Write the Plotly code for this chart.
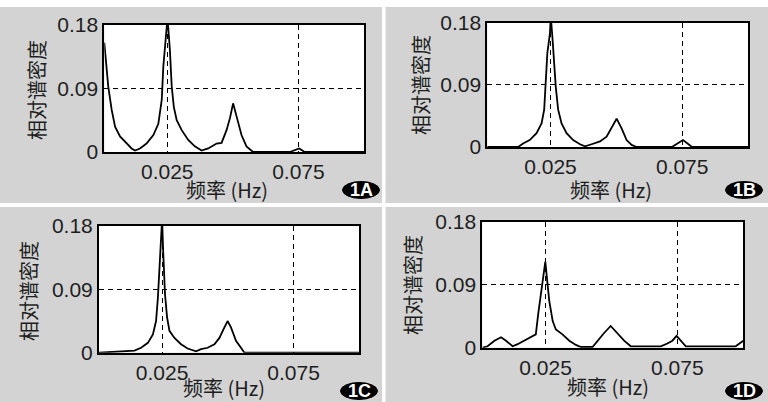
import plotly.graph_objects as go

# ---------------- data ----------------
freq_A = [0.0010, 0.0015, 0.0025, 0.0038, 0.0051, 0.0070, 0.0095, 0.0114, 0.0127, 0.0146,
          0.0171, 0.0197, 0.0216, 0.0229, 0.0235, 0.0244, 0.0251, 0.0260, 0.0267, 0.0275,
          0.0286, 0.0305, 0.0330, 0.0355, 0.0381, 0.0406, 0.0438, 0.0457, 0.0476, 0.0489,
          0.0501, 0.0516, 0.0533, 0.0552, 0.0577, 0.0717, 0.0736, 0.0753, 0.0774, 0.1000]
psd_A = [0.155, 0.130, 0.093, 0.060, 0.036, 0.022, 0.012, 0.005, 0.002, 0.005,
         0.012, 0.024, 0.040, 0.074, 0.121, 0.154, 0.190, 0.145, 0.093, 0.064,
         0.045, 0.031, 0.017, 0.008, 0.002, 0.005, 0.012, 0.013, 0.031, 0.048,
         0.069, 0.048, 0.024, 0.008, 0.000, 0.000, 0.003, 0.005, 0.000, 0.000]

freq_B = [0.0010, 0.0127, 0.0146, 0.0171, 0.0197, 0.0216, 0.0226, 0.0232, 0.0238, 0.0248,
          0.0251, 0.0258, 0.0264, 0.0270, 0.0279, 0.0292, 0.0311, 0.0336, 0.0362, 0.0381,
          0.0406, 0.0438, 0.0463, 0.0482, 0.0501, 0.0520, 0.0539, 0.0558, 0.0577, 0.0711,
          0.0730, 0.0753, 0.0774, 0.0787, 0.1000]
psd_B = [0.000, 0.000, 0.005, 0.010, 0.020, 0.034, 0.054, 0.092, 0.136, 0.165,
         0.190, 0.155, 0.121, 0.087, 0.054, 0.034, 0.020, 0.010, 0.004, 0.001,
         0.004, 0.008, 0.015, 0.027, 0.041, 0.027, 0.010, 0.003, 0.000, 0.000,
         0.005, 0.010, 0.004, 0.000, 0.000]

freq_C = [0.0010, 0.0145, 0.0170, 0.0196, 0.0215, 0.0227, 0.0234, 0.0240, 0.0244, 0.0250,
          0.0254, 0.0256, 0.0261, 0.0269, 0.0278, 0.0297, 0.0322, 0.0347, 0.0379, 0.0398,
          0.0423, 0.0449, 0.0468, 0.0487, 0.0499, 0.0512, 0.0531, 0.0550, 0.0563, 0.1000]
psd_C = [0.000, 0.003, 0.007, 0.014, 0.026, 0.045, 0.078, 0.121, 0.150, 0.190,
         0.145, 0.121, 0.083, 0.050, 0.031, 0.021, 0.012, 0.006, 0.002, 0.005,
         0.007, 0.012, 0.021, 0.036, 0.045, 0.036, 0.017, 0.007, 0.000, 0.000]

freq_D = [0.0011, 0.0030, 0.0056, 0.0081, 0.0100, 0.0125, 0.0144, 0.0169, 0.0194, 0.0213,
          0.0222, 0.0232, 0.0242, 0.0249, 0.0255, 0.0264, 0.0277, 0.0289, 0.0314, 0.0340,
          0.0365, 0.0384, 0.0428, 0.0447, 0.0472, 0.0497, 0.0523, 0.0548, 0.0573, 0.0687,
          0.0712, 0.0731, 0.0747, 0.0763, 0.0782, 0.0971, 0.0984, 0.1000]
psd_D = [0.000, 0.002, 0.010, 0.015, 0.010, 0.002, 0.005, 0.010, 0.014, 0.019,
         0.048, 0.076, 0.105, 0.123, 0.100, 0.067, 0.038, 0.026, 0.019, 0.010,
         0.004, 0.001, 0.001, 0.010, 0.021, 0.031, 0.021, 0.010, 0.002, 0.002,
         0.006, 0.010, 0.017, 0.010, 0.002, 0.002, 0.006, 0.010]

x_tick_vals = [0.025, 0.075]
x_tick_text = ["0.025", "0.075"]
y_tick_vals = [0, 0.09, 0.18]
y_tick_text = ["0", "0.09", "0.18"]
panel_labels = ["1A", "1B", "1C", "1D"]
y_title = "相对谱密度"
x_title = "频率 (Hz)"

# ---------------- layout helpers ----------------
W, H = 768, 402
def px(x):
    return x / W
def py(y):
    return 1 - y / H

FONT = "Liberation Sans, Arial, Noto Sans CJK SC, sans-serif"
CJK = "Noto Sans CJK SC, Liberation Sans, sans-serif"
TXT = "#1e1e1e"
GRAY = "#d3d3d3"

# plot boxes in pixels: (left, right, top, bottom)
boxes = [(104.3, 364, 25, 152), (487.3, 748, 22.7, 147),
         (99, 359.3, 226, 352.7), (482.3, 743.3, 221.7, 347.7)]
ytitle_pos = [(37, 90), (421, 85), (28, 291), (412, 285)]
xtitle_pos = [(227, 190), (611, 190), (224, 387), (608, 386)]
badge_pos = [(361, 190), (744, 190), (359, 391), (744, 391)]

series = [(freq_A, psd_A), (freq_B, psd_B), (freq_C, psd_C), (freq_D, psd_D)]

fig = go.Figure()
layout = dict(
    width=W, height=H, margin=dict(l=0, r=0, t=0, b=0, pad=0, autoexpand=False),
    paper_bgcolor=GRAY, plot_bgcolor="white", showlegend=False,
    font=dict(family=FONT, color=TXT),
)
annotations = []
shapes = [
    dict(type="rect", xref="paper", yref="paper", x0=0, x1=1, y0=py(7), y1=1,
         fillcolor="white", line_width=0, layer="below"),
    dict(type="rect", xref="paper", yref="paper", x0=px(382), x1=px(385.5), y0=0, y1=1,
         fillcolor="white", line_width=0, layer="below"),
    dict(type="rect", xref="paper", yref="paper", x0=0, x1=1, y0=py(207), y1=py(203),
         fillcolor="white", line_width=0, layer="below"),
]

for i, ((fx, fy), (l, r, t, b)) in enumerate(zip(series, boxes)):
    n = "" if i == 0 else str(i + 1)
    fig.add_trace(go.Scatter(x=fx, y=fy, mode="lines", xaxis="x" + n, yaxis="y" + n,
                             line=dict(color="black", width=1.8), hoverinfo="skip"))
    layout["xaxis" + n] = dict(
        domain=[px(l), px(r)], range=[0.001, 0.1], anchor="y" + n, automargin=False,
        tickvals=x_tick_vals, ticktext=x_tick_text, ticks="",
        showgrid=True, gridcolor="black", gridwidth=1.3, griddash="5px,4px",
        showline=True, mirror=True, linecolor="black", linewidth=2,
        zeroline=False, tickfont=dict(size=21, family=FONT, color=TXT), fixedrange=True,
    )
    layout["yaxis" + n] = dict(
        domain=[py(b), py(t)], range=[0, 0.18], anchor="x" + n, automargin=False,
        tickvals=y_tick_vals, ticktext=y_tick_text, ticks="",
        showgrid=True, gridcolor="black", gridwidth=1.3, griddash="5px,4px",
        showline=True, mirror=True, linecolor="black", linewidth=2,
        zeroline=False, tickfont=dict(size=21, family=FONT, color=TXT), fixedrange=True,
    )
    yx, yy = ytitle_pos[i]
    annotations.append(dict(text=y_title, x=px(yx), y=py(yy), xref="paper", yref="paper",
                            showarrow=False, textangle=-90, xanchor="center", yanchor="middle",
                            font=dict(size=20, family=CJK, color=TXT)))
    xx, xy = xtitle_pos[i]
    annotations.append(dict(text=x_title, x=px(xx), y=py(xy), xref="paper", yref="paper",
                            showarrow=False, xanchor="center", yanchor="middle",
                            font=dict(size=20, family=CJK, color=TXT)))
    bx, by = badge_pos[i]
    shapes.append(dict(type="circle", xref="paper", yref="paper",
                       x0=px(bx - 18.5), x1=px(bx + 18.5), y0=py(by + 8.5), y1=py(by - 8.5),
                       fillcolor="black", line=dict(color="black", width=1), layer="above"))
    annotations.append(dict(text="<b>" + panel_labels[i] + "</b>", x=px(bx), y=py(by),
                            xref="paper", yref="paper", showarrow=False,
                            xanchor="center", yanchor="middle",
                            font=dict(size=18, family=FONT, color="white")))

layout["annotations"] = annotations
layout["shapes"] = shapes
fig.update_layout(**layout)
fig.write_html("out.html", config={"displayModeBar": False},
               post_script="document.body.style.margin='0';")
